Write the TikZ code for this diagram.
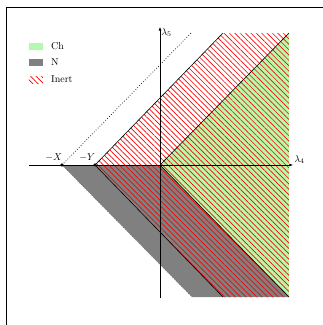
\documentclass[tikz,border=0pt]{standalone}
\usepackage{amsmath,amssymb}
\usetikzlibrary{positioning,arrows.meta,calc,patterns.meta}
\definecolor{chgreen}{RGB}{180,250,172}
\definecolor{ngray}{RGB}{128,128,128}

\begin{document}
\begin{tikzpicture}[x=1pt,y=1pt,
 ax/.style={-{Latex[length=3.5pt,width=2.8pt]},line width=.6pt},
 bd/.style={line width=.6pt,draw=black},
 ht/.style={pattern={Lines[angle=-45,distance=3.8pt,line width=.65pt]},pattern color=red},
 pt/.style={circle,fill=black,inner sep=0pt,minimum size=3.4pt},
 lg/.style={right,inner sep=0pt}]
\useasboundingbox (-160,-160) rectangle (163,165);
\draw[line width=.6pt] (-154,-170) -- (-154,158) -- (175,158);
% corners of the regions
\coordinate (O) at (0,0);
\coordinate (tl) at (63,132);\coordinate (tr) at (129,132);
\coordinate (br) at (129,-132);\coordinate (bm) at (63,-132);\coordinate (bl) at (32,-132);
\coordinate (dt) at (32,133);
\node[pt] (mX) at (-98,0) {};\node[pt] (mY) at (-65,0) {};
% regions
\fill[chgreen] (O) -- (tr) -- (br) -- cycle;
\fill[ngray] (mX.center) -- (O) -- (br) -- (bl) -- cycle;
\fill[ht] (mY.center) -- (tl) -- (tr) -- (br) -- (bm) -- cycle;
% boundaries
\draw[bd] (mY.center) -- (tl);\draw[bd] (mY.center) -- (bm);
\draw[bd] (O) -- (tr);\draw[bd] (O) -- (br);
\draw[dotted,line width=.7pt] (mX.center) -- (dt);\draw[dotted,line width=.5pt,draw=black!70] (mX.center) -- (bl);
% axes
\draw[ax] (-131,0) -- (133,0) node[above right,inner sep=1pt] (l4) {$\lambda_4$};
\draw[ax] (0,-133) -- (0,138) node[below right,inner sep=1pt] (l5) {$\lambda_5$};
\node[pt] at (mX) {};\node[pt] at (mY) {};
\node[above left=-1pt and -5pt of mX] (lX) {$-X$};
\node[above left=-1pt and -5pt of mY] (lY) {$-Y$};
% legend
\fill[chgreen] (-131,115) rectangle (-117,122);
\node[lg] (ch) at (-109,118.5) {Ch};
\fill[ngray] (-131,99) rectangle (-117,106);
\node[lg] (nn) at (-109,102.5) {N};
\fill[ht] (-131,82) rectangle (-117,89);
\node[lg] (in) at (-109,85.5) {Inert};
\end{tikzpicture}
\end{document}
